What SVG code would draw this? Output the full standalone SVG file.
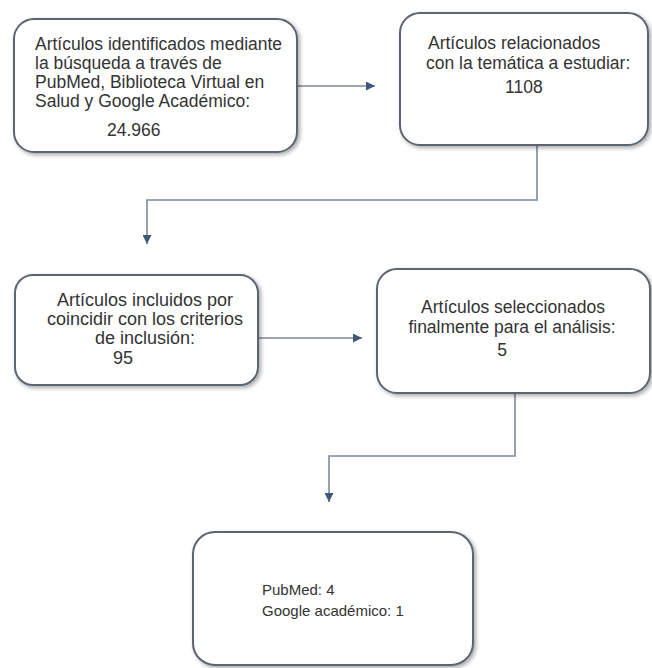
<svg xmlns="http://www.w3.org/2000/svg" width="652" height="668" viewBox="0 0 652 668">
  <defs>
    <filter id="sh" x="-10%" y="-10%" width="125%" height="130%">
      <feGaussianBlur in="SourceAlpha" stdDeviation="2"/>
      <feOffset dx="2" dy="2" result="b"/>
      <feComponentTransfer><feFuncA type="linear" slope="0.35"/></feComponentTransfer>
      <feMerge><feMergeNode/><feMergeNode in="SourceGraphic"/></feMerge>
    </filter>
    <marker id="arr" viewBox="0 0 10 10" refX="10" refY="5" markerWidth="9" markerHeight="9" markerUnits="userSpaceOnUse" orient="auto">
      <path d="M0,0 L10,5 L0,10 Z" fill="#3f5878"/>
    </marker>
  </defs>
  <style>
    .box { fill: #ffffff; stroke: #5d6670; stroke-width: 2; filter: url(#sh); }
    .t { font-family: "Liberation Sans", Arial, sans-serif; font-size: 17.5px; fill: #333333; }
    .c { text-anchor: middle; }
    .s { font-size: 15px; }
    .m { font-size: 18px; }
    .conn { fill: none; stroke: #7f8b98; stroke-width: 1.6; marker-end: url(#arr); }
  </style>
  <rect width="652" height="668" fill="#ffffff"/>

  <g id="connectors">
    <path class="conn" d="M297,86 H375"/>
    <path class="conn" d="M537,145 V200 H147 V244"/>
    <path class="conn" d="M258,338 H362"/>
    <path class="conn" d="M515,393 V456 H329 V502"/>
  </g>

  <g id="n1">
    <rect class="box" x="14" y="19" width="283" height="133" rx="20"/>
    <text class="t" x="35" y="50">Artículos identificados mediante</text>
    <text class="t" x="35" y="69">la búsqueda a través de</text>
    <text class="t" x="35" y="88">PubMed, Biblioteca Virtual en</text>
    <text class="t" x="35" y="107">Salud y Google Académico:</text>
    <text class="t" x="107" y="136">24.966</text>
  </g>

  <g id="n2">
    <rect class="box" x="400" y="13" width="248" height="132" rx="20"/>
    <text class="t" x="428" y="49">Artículos relacionados</text>
    <text class="t" x="426" y="69">con la temática a estudiar:</text>
    <text class="t" x="505" y="93">1108</text>
  </g>

  <g id="n3">
    <rect class="box" x="15" y="275" width="243" height="110" rx="18"/>
    <text class="t m c" x="145" y="306">Artículos incluidos por</text>
    <text class="t m c" x="145" y="325">coincidir con los criterios</text>
    <text class="t m c" x="145" y="344">de inclusión:</text>
    <text class="t m c" x="123" y="364">95</text>
  </g>

  <g id="n4">
    <rect class="box" x="377" y="269" width="273" height="124" rx="20"/>
    <text class="t c" x="513" y="313">Artículos seleccionados</text>
    <text class="t c" x="512" y="333">finalmente para el análisis:</text>
    <text class="t c" x="502" y="356">5</text>
  </g>

  <g id="n5">
    <rect class="box" x="193" y="532" width="280" height="133" rx="22"/>
    <text class="t s" x="262" y="595">PubMed: 4</text>
    <text class="t s" x="262" y="616">Google académico: 1</text>
  </g>
</svg>
